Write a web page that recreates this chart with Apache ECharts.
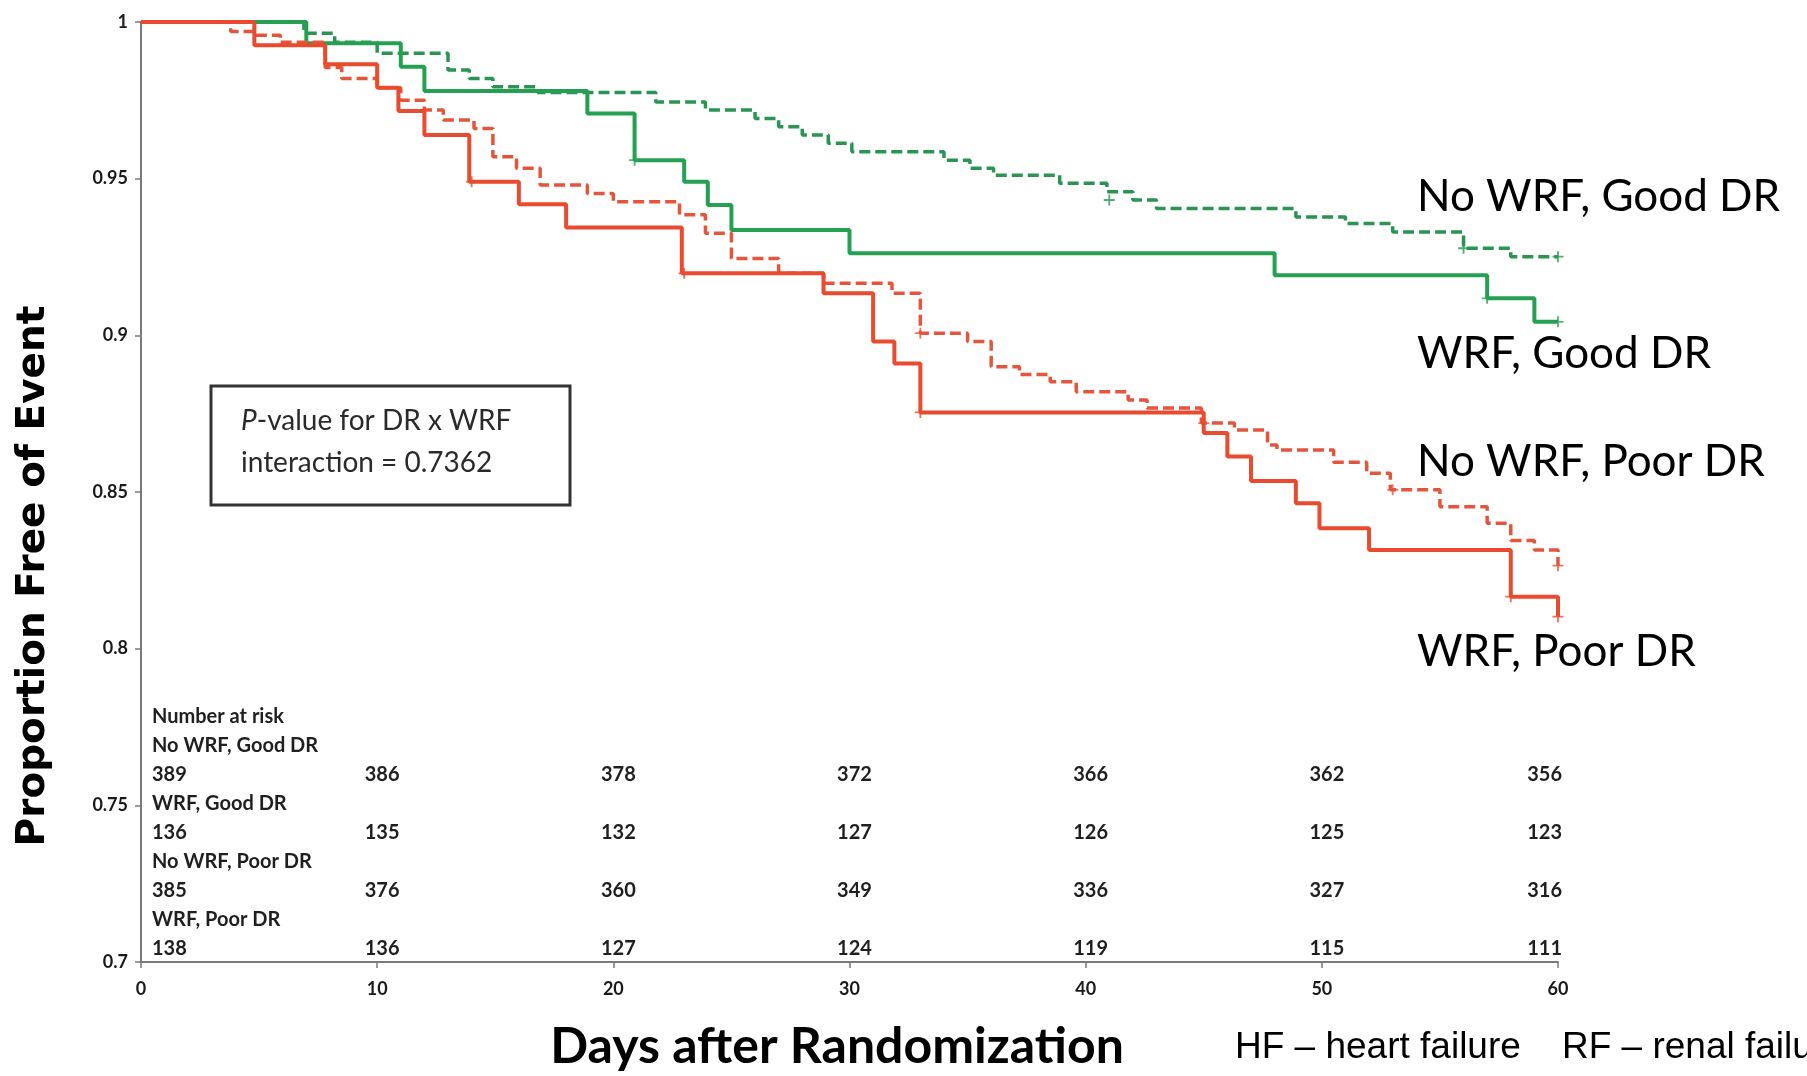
<!DOCTYPE html>
<html>
<head>
<meta charset="utf-8">
<title>Proportion free of event</title>
<script src="https://cdn.jsdelivr.net/npm/echarts@6/dist/echarts.min.js"></script>
<style>
  html, body { margin: 0; padding: 0; background: #fff; }
  #chart { width: 1807px; height: 1076px; }
</style>
</head>
<body>
<div id="chart"></div>
<script>
// Kaplan-Meier steps, [day, proportion free of event] (value holds until next day)
const noWrfGoodDr = [[0,1],[6.9,0.9964],[8.2,0.9935],[10,0.990],[13,0.9847],[13.9,0.982],[14.9,0.9793],[16.8,0.9775],[21.8,0.9745],[23.9,0.9719],[26,0.9692],[27,0.9666],[28,0.9639],[29.1,0.9613],[30.1,0.9586],[34,0.9559],[35.1,0.9533],[36.1,0.9511],[38.9,0.9485],[40.9,0.9458],[42,0.9432],[43,0.9405],[48.9,0.9378],[51,0.9357],[53,0.933],[56,0.9278],[58,0.9251],[60,0.9251]]
const wrfGoodDr = [[0,1],[7,0.9932],[11,0.9857],[12,0.978],[18.9,0.9708],[20.9,0.9559],[23,0.949],[24,0.9416],[25,0.9336],[30,0.9262],[48,0.9192],[57,0.9118],[59,0.9043],[60,0.9043]]
const noWrfPoorDr = [[0,1],[3.8,0.997],[4.8,0.9958],[5.9,0.9935],[7.8,0.9855],[8.5,0.982],[10,0.979],[11,0.975],[12,0.9719],[12.8,0.9687],[14.1,0.966],[14.9,0.957],[15.9,0.9533],[16.9,0.948],[18.9,0.9453],[20,0.9426],[22.8,0.9385],[23.9,0.9326],[25,0.9245],[27,0.9198],[28.9,0.9166],[31.8,0.9134],[33,0.9007],[35,0.898],[36,0.89],[37.2,0.8875],[38.5,0.8852],[39.6,0.882],[41.8,0.8794],[42.6,0.8768],[44.9,0.872],[46.3,0.8698],[47.7,0.865],[48.1,0.8634],[50.5,0.8595],[51.9,0.856],[52.9,0.8507],[55,0.8453],[57,0.84],[58,0.8345],[59,0.8315],[60,0.8265]]
const wrfPoorDr = [[0,1],[4.8,0.9926],[7.8,0.9865],[10,0.979],[10.9,0.9716],[12,0.9639],[13.9,0.949],[16,0.9418],[18,0.9344],[22.9,0.9198],[28.9,0.9134],[31,0.898],[31.9,0.891],[33,0.8754],[45,0.8688],[46,0.8613],[47,0.8535],[48.9,0.8464],[49.9,0.8384],[52,0.8315],[58,0.8166],[60,0.8102]]

// censored observations (+)
const censorNoWrfGood = [[41,0.9432],[56,0.9278],[60,0.9251]]
const censorWrfGood = [[20.9,0.9559],[57,0.9118],[60,0.9043]]
const censorNoWrfPoor = [[33,0.9007],[45,0.872],[53,0.8507],[60,0.8265]]
const censorWrfPoor = [[14,0.949],[23,0.9198],[33,0.8754],[58,0.8166],[60,0.8102]]

// number at risk table
const groupNames = ['No WRF, Good DR', 'WRF, Good DR', 'No WRF, Poor DR', 'WRF, Poor DR']
const riskDays = [0, 10, 20, 30, 40, 50, 60]
const riskNoWrfGood = [389, 386, 378, 372, 366, 362, 356]
const riskWrfGood = [136, 135, 132, 127, 126, 125, 123]
const riskNoWrfPoor = [385, 376, 360, 349, 336, 327, 316]
const riskWrfPoor = [138, 136, 127, 124, 119, 115, 111]
const riskRows = [riskNoWrfGood, riskWrfGood, riskNoWrfPoor, riskWrfPoor]

const GREEN = '#25a053'
const GREEN_DASH = '#2a9452'
const RED = '#ea4b2f'
const RED_DASH = '#e4563b'
const PLUS = 'path://M-1,-6L1,-6L1,-1L6,-1L6,1L1,1L1,6L-1,6L-1,1L-6,1L-6,-1L-1,-1Z'
const tickFont = { fontFamily: 'Lato', fontWeight: 'bold', fontSize: 18, color: '#1a1a1a' }

const chart = echarts.init(document.getElementById('chart'))

const stepLine = (name, data, color, dashed) => ({
  name,
  type: 'line',
  step: 'end',
  data,
  symbol: 'none',
  silent: true,
  lineStyle: {
    color,
    width: dashed ? 3.5 : 4,
    type: dashed ? [11, 5] : 'solid'
  }
})

const censorMarks = (data, color) => ({
  type: 'scatter',
  data,
  symbol: PLUS,
  symbolSize: 11,
  silent: true,
  itemStyle: { color }
})

chart.setOption({
  backgroundColor: '#ffffff',
  animation: false,
  grid: { left: 141, right: 249, top: 22, bottom: 114 },
  xAxis: {
    type: 'value',
    min: 0,
    max: 60,
    interval: 10,
    splitLine: { show: false },
    axisLine: { lineStyle: { color: '#7a7a7a', width: 2 } },
    axisTick: { length: 6, lineStyle: { color: '#7a7a7a', width: 1.5 } },
    axisLabel: Object.assign({ margin: 18 }, tickFont)
  },
  yAxis: {
    type: 'value',
    min: 0.7,
    max: 1,
    interval: 0.05,
    splitLine: { show: false },
    axisLine: { show: true, lineStyle: { color: '#7a7a7a', width: 2 } },
    axisTick: { show: true, length: 6, lineStyle: { color: '#7a7a7a', width: 1.5 } },
    axisLabel: Object.assign({ margin: 13 }, tickFont)
  },
  series: [
    stepLine('No WRF, Good DR', noWrfGoodDr, GREEN_DASH, true),
    stepLine('WRF, Good DR', wrfGoodDr, GREEN, false),
    stepLine('No WRF, Poor DR', noWrfPoorDr, RED_DASH, true),
    stepLine('WRF, Poor DR', wrfPoorDr, RED, false),
    censorMarks(censorNoWrfGood, GREEN_DASH),
    censorMarks(censorWrfGood, GREEN),
    censorMarks(censorNoWrfPoor, RED_DASH),
    censorMarks(censorWrfPoor, RED)
  ]
})

// text layer: titles, annotations and the number-at-risk table
const buildGraphics = () => {
  const px = d => chart.convertToPixel({ xAxisIndex: 0 }, d)
  const els = []
  const txt = (x, y, text, style, extra) => els.push(Object.assign({
    type: 'text', x, y, silent: true,
    style: Object.assign({ text, fill: '#111', textVerticalAlign: 'middle' }, style)
  }, extra || {}))

  // axis titles
  txt(34, 576, 'Proportion Free of Event',
    { font: 'bold 39px "DejaVu Sans"', textAlign: 'center', fill: '#000' },
    { rotation: Math.PI / 2 })
  txt(837, 1047, 'Days after Randomization',
    { font: 'bold 50px "Liberation Sans Narrow", Lato', textAlign: 'center', fill: '#000' })
  txt(1235, 1048, 'HF \u2013 heart failure    RF \u2013 renal failure',
    { font: '37px "Liberation Sans"', textAlign: 'left', fill: '#000' })

  // curve labels on the right
  const labelY = [197, 354, 462, 652]
  groupNames.forEach((g, i) => {
    txt(1417, labelY[i], g, { font: '44px Lato', textAlign: 'left', fill: '#000' })
  })

  // p-value box
  els.push({
    type: 'rect', silent: true,
    shape: { x: 211, y: 386, width: 359, height: 119 },
    style: { fill: '#fff', stroke: '#333', lineWidth: 3 }
  })
  els.push({
    type: 'text', x: 241, y: 421, silent: true,
    style: {
      text: '{i|P}-value for DR x WRF',
      textVerticalAlign: 'middle',
      font: '28px Lato', fill: '#2a2a2a',
      rich: { i: { font: 'italic 28px Lato', fill: '#2a2a2a' } }
    }
  })
  txt(241, 463, 'interaction = 0.7362', { font: '28px Lato', fill: '#2a2a2a' })

  // number at risk
  const rowTop = 717
  const rowStep = 28.95
  const tableFont = 'bold 20px Lato'
  const tableInk = '#1f1f1f'
  txt(152, rowTop, 'Number at risk', { font: tableFont, fill: tableInk })
  groupNames.forEach((g, gi) => {
    txt(152, rowTop + rowStep * (1 + gi * 2), g, { font: tableFont, fill: tableInk })
    const yRow = rowTop + rowStep * (2 + gi * 2)
    riskRows[gi].forEach((n, ci) => {
      const d = riskDays[ci]
      let x = px(d) + 5
      let align = 'center'
      if (ci === 0) { x = px(d) + 11; align = 'left' }
      if (ci === riskDays.length - 1) { x = px(d) + 4; align = 'right' }
      txt(x, yRow, String(n), { font: tableFont, fill: tableInk, textAlign: align })
    })
  })
  return els
}

chart.setOption({ graphic: buildGraphics() })
</script>
</body>
</html>
